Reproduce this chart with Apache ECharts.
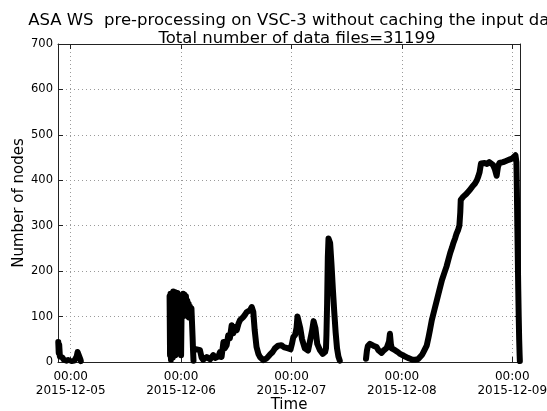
<!DOCTYPE html>
<html>
<head>
<meta charset="utf-8">
<script src="https://cdn.jsdelivr.net/npm/echarts@6/dist/echarts.min.js"></script>
<style>
html,body{margin:0;padding:0;background:#fff;}
#chart{width:547px;height:411px;}
</style>
</head>
<body>
<div id="chart"></div>
<script>
// Hours since 2015-12-05 00:00 and number of nodes ('-' marks a gap in the record)
var hours = [
  -2.7,-2.6,-2.5,-2.35,-2.2,-2.0,-1.8,-1.5,-1.2,-0.9,-0.6,-0.3,
  0.2,0.5,0.8,1.1,1.3,1.5,1.7,1.9,2.1,2.2,10,
  21.5,21.6,21.7,21.8,21.9,22.0,22.1,22.2,22.3,22.45,22.6,22.75,22.9,23.05,23.2,23.35,23.5,23.6,23.7,23.8,23.9,24.0,24.1,24.2,24.3,24.45,24.6,24.75,24.9,25.05,25.2,25.35,25.5,25.65,25.8,25.95,26.1,26.25,26.4,26.5,26.6,26.7,27.0,
  27.4,27.6,28.1,28.45,28.8,29.2,29.57,30.0,30.3,30.7,31.0,31.4,31.74,32.1,32.46,32.8,33.2,33.5,33.9,34.25,34.6,35.0,35.35,35.7,36.09,36.5,36.8,37.1,37.5,37.9,38.26,38.6,39.0,39.35,39.7,40.0,40.4,40.8,41.15,41.87,42.24,42.6,43.3,43.9,44.4,45.1,45.8,46.3,46.6,47.3,47.8,48.1,48.4,48.8,49.1,49.3,49.5,49.9,50.3,50.9,51.6,52.0,52.5,52.8,53.2,53.6,54.2,54.8,55.3,55.5,55.6,55.75,55.9,56.05,56.2,56.4,56.7,57.0,57.3,57.6,57.9,58.2,58.5,61,
  64.2,64.4,64.6,65.06,65.4,65.8,66.2,66.5,66.9,67.3,67.6,68.0,68.3,68.7,69.0,69.2,69.4,69.6,69.8,70.5,71.1,71.6,72.2,72.7,73.3,73.8,74.3,74.9,75.5,75.9,76.4,76.8,77.4,77.8,78.1,78.5,79.0,79.6,80.2,80.7,81.2,81.7,82.1,82.5,82.9,83.2,83.6,83.9,84.2,84.5,84.7,84.8,85.35,86.0,86.8,87.3,87.9,88.3,88.6,88.9,89.2,89.6,90.0,90.5,91.0,91.4,91.8,92.2,92.6,92.9,93.2,93.6,94.0,94.5,95.0,95.5,96.0,96.4,96.7,96.9,97.0,97.1,97.2,97.3,97.4,97.5,97.6,97.65
];
var nodes = [
  44,20,38,12,15,8,10,5,6,3,4,'-',
  2,5,3,6,12,22,26,20,6,2,'-',
  145,15,150,5,148,25,152,10,155,20,154,15,150,25,152,20,145,30,135,20,100,15,105,140,100,150,105,148,110,145,105,135,100,128,98,122,100,118,80,55,25,3,'-',
  28,32,26,10,5,8,11,8,6,10,15,9,5,12,22,11,44,30,37,59,52,81,63,77,70,85,92,88,99,104,110,108,114,121,110,70,33,18,11,4,3,8,16,22,30,36,37,33,30,30,28,40,55,60,75,100,96,75,50,30,25,45,70,90,75,40,26,18,22,30,60,130,230,272,275,262,215,160,110,65,30,12,3,'-',
  7,25,35,40,38,36,37,33,26,24,20,25,29,31,33,45,62,40,30,26,22,18,15,12,9,7,5,5,6,8,16,24,36,55,70,92,112,136,160,180,195,210,225,240,252,262,273,283,290,300,330,357,364,370,379,386,393,400,408,418,437,440,438,436,440,437,434,425,410,430,438,436,440,442,444,446,448,452,455,440,380,300,230,160,100,50,15,2
];
var tickHours = [0, 24, 48, 72, 96];
var tickLabels = ['00:00\n2015-12-05','00:00\n2015-12-06','00:00\n2015-12-07','00:00\n2015-12-08','00:00\n2015-12-09'];

var data = hours.map(function(h, i){ return [h, nodes[i]]; });
var FONT = 'DejaVu Sans';
var gridLine = {show:true, lineStyle:{color:'#9a9a9a', type:[1,3], width:1}};
var axisLineS = {show:true, onZero:false, lineStyle:{color:'#222', width:1}};

var chart = echarts.init(document.getElementById('chart'), null, {renderer:'canvas'});
chart.setOption({
  backgroundColor:'#fff',
  animation:false,
  title:{
    text:'ASA WS  pre-processing on VSC-3 without caching the input data\nTotal number of data files=31199',
    left:292, top:7, textAlign:'center',
    textStyle:{fontFamily:FONT, fontSize:16.5, fontWeight:'normal', color:'#000', lineHeight:18}
  },
  grid:{left:58, right:27, top:44, bottom:49, containLabel:false, outerBoundsMode:'none'},
  xAxis:[{
    type:'value', min:-2.76, max:97.68, position:'bottom',
    name:'Time', nameLocation:'middle', nameGap:36, nameMoveOverlap:false,
    nameTextStyle:{fontFamily:FONT, fontSize:15, color:'#000'},
    axisLine:axisLineS,
    axisTick:{show:true, inside:true, length:5, customValues:tickHours, lineStyle:{color:'#222'}},
    axisLabel:{customValues:tickHours, fontFamily:FONT, fontSize:12, color:'#000', lineHeight:14, margin:8,
      formatter:function(v){ var i = tickHours.indexOf(v); return i>=0 ? tickLabels[i] : ''; }},
    splitLine:gridLine
  },{
    type:'value', min:-2.76, max:97.68, position:'top',
    axisLine:axisLineS,
    axisTick:{show:true, inside:true, length:5, customValues:tickHours, lineStyle:{color:'#222'}},
    axisLabel:{show:false},
    splitLine:{show:false}
  }],
  yAxis:[{
    type:'value', min:0, max:700, interval:100, position:'left',
    name:'Number of nodes', nameLocation:'middle', nameGap:31, nameRotate:90, nameMoveOverlap:false,
    nameTextStyle:{fontFamily:FONT, fontSize:15, color:'#000'},
    axisLine:axisLineS,
    axisTick:{show:true, inside:true, length:5, lineStyle:{color:'#222'}},
    axisLabel:{fontFamily:FONT, fontSize:11.5, color:'#000', margin:5},
    splitLine:gridLine
  },{
    type:'value', min:0, max:700, interval:100, position:'right',
    axisLine:axisLineS,
    axisTick:{show:true, inside:true, length:5, lineStyle:{color:'#222'}},
    axisLabel:{show:false},
    splitLine:{show:false}
  }],
  series:[{
    type:'line', xAxisIndex:0, yAxisIndex:0,
    data:data, showSymbol:false, connectNulls:false,
    lineStyle:{color:'#000', width:6, cap:'round', join:'round'},
    itemStyle:{color:'#000'},
    clip:true
  }]
});
</script>
</body>
</html>
